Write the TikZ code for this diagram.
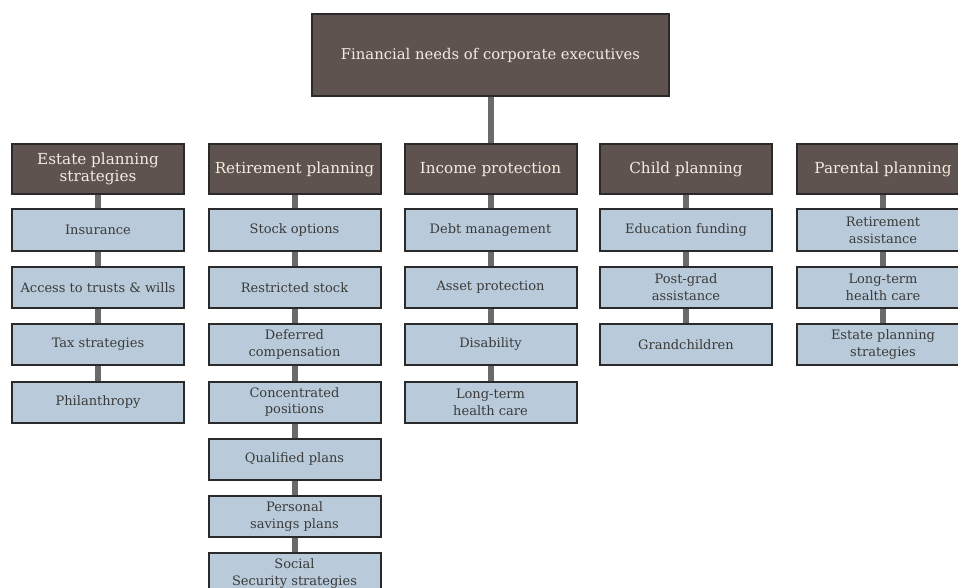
\documentclass[tikz,border=0pt]{standalone}
\usepackage{fontspec}
\setmainfont{DejaVu Serif}
\usetikzlibrary{backgrounds}
\definecolor{hdr}{HTML}{5E534E}
\definecolor{leaf}{HTML}{B9CBDA}
\definecolor{edgec}{HTML}{2A2A2A}
\definecolor{conn}{HTML}{6A6A6A}
\definecolor{hdrtext}{HTML}{F3ECDF}
\definecolor{leaftext}{HTML}{3A3A3A}
\begin{document}
\begin{tikzpicture}[x=1pt,y=-1pt,
  basebox/.style={rectangle,draw=edgec,line width=2pt,inner sep=0pt,align=center},
  hdrbox/.style={basebox,fill=hdr,text=hdrtext,minimum width=172pt,minimum height=50pt,
    font=\fontsize{15.2}{17.5}\selectfont},
  topbox/.style={basebox,fill=hdr,text=hdrtext,minimum width=357pt,minimum height=82pt,
    font=\fontsize{14.8}{17.5}\selectfont},
  leafbox/.style={basebox,fill=leaf,text=leaftext,minimum width=172pt,minimum height=41pt,
    font=\fontsize{13}{16.8}\selectfont},
  link/.style={draw=conn,line width=6pt}]
\begin{scope}[on background layer]
\fill[white] (0,0) rectangle (958,588);
\end{scope}
\useasboundingbox (0,0) rectangle (958,588);
\clip (0,0) rectangle (958,588);

\node[topbox] (top) at (490.5,55) {Financial needs of corporate executives};

% column headers
\node[hdrbox] (h1) at (98,169) {Estate planning\\strategies};
\node[hdrbox] (h2) at (294.5,169) {Retirement planning};
\node[hdrbox] (h3) at (490.5,169) {Income protection};
\node[hdrbox] (h4) at (686,169) {Child planning};
\node[hdrbox] (h5) at (883,169) {Parental planning};

% column 1
\node[leafbox] (a1) at (98,230) {Insurance};
\node[leafbox] (a2) at (98,287.5) {Access to trusts \& wills};
\node[leafbox] (a3) at (98,344.5) {Tax strategies};
\node[leafbox] (a4) at (98,402) {Philanthropy};

% column 2
\node[leafbox] (b1) at (294.5,230) {Stock options};
\node[leafbox] (b2) at (294.5,287.5) {Restricted stock};
\node[leafbox] (b3) at (294.5,344.5) {Deferred\\compensation};
\node[leafbox] (b4) at (294.5,402) {Concentrated\\positions};
\node[leafbox] (b5) at (294.5,459) {Qualified plans};
\node[leafbox] (b6) at (294.5,516.5) {Personal\\savings plans};
\node[leafbox] (b7) at (294.5,573.5) {Social\\Security strategies};

% column 3
\node[leafbox] (c1) at (490.5,230) {Debt management};
\node[leafbox] (c2) at (490.5,287.5) {Asset protection};
\node[leafbox] (c3) at (490.5,344.5) {Disability};
\node[leafbox] (c4) at (490.5,402) {Long-term\\health care};

% column 4
\node[leafbox] (d1) at (686,230) {Education funding};
\node[leafbox] (d2) at (686,287.5) {Post-grad\\assistance};
\node[leafbox] (d3) at (686,344.5) {Grandchildren};

% column 5
\node[leafbox] (e1) at (883,230) {Retirement\\assistance};
\node[leafbox] (e2) at (883,287.5) {Long-term\\health care};
\node[leafbox] (e3) at (883,344.5) {Estate planning\\strategies};

\begin{scope}[on background layer]
\path[link] (top.south) -- (h3.north);
\path[link] (h1.south) -- (a1.north);
\path[link] (a1.south) -- (a2.north);
\path[link] (a2.south) -- (a3.north);
\path[link] (a3.south) -- (a4.north);
\path[link] (h2.south) -- (b1.north);
\path[link] (b1.south) -- (b2.north);
\path[link] (b2.south) -- (b3.north);
\path[link] (b3.south) -- (b4.north);
\path[link] (b4.south) -- (b5.north);
\path[link] (b5.south) -- (b6.north);
\path[link] (b6.south) -- (b7.north);
\path[link] (h3.south) -- (c1.north);
\path[link] (c1.south) -- (c2.north);
\path[link] (c2.south) -- (c3.north);
\path[link] (c3.south) -- (c4.north);
\path[link] (h4.south) -- (d1.north);
\path[link] (d1.south) -- (d2.north);
\path[link] (d2.south) -- (d3.north);
\path[link] (h5.south) -- (e1.north);
\path[link] (e1.south) -- (e2.north);
\path[link] (e2.south) -- (e3.north);
\end{scope}
\end{tikzpicture}
\end{document}
